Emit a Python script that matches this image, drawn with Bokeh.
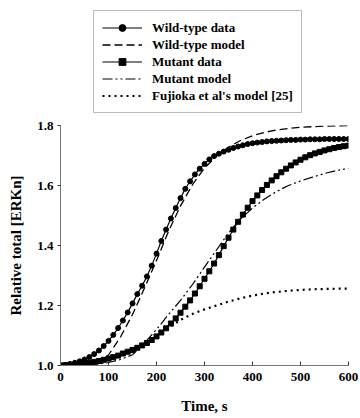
from bokeh.plotting import figure
from bokeh.models import Legend, LegendItem, Range1d, FixedTicker
from bokeh.layouts import column
from bokeh.embed import file_html
from bokeh.resources import INLINE

# ---- data ----
t_data = list(range(0, 601, 10))
wild_data = [1.000, 1.002, 1.005, 1.009, 1.014, 1.020, 1.028, 1.038, 1.050, 1.065,
             1.082, 1.102, 1.125, 1.150, 1.177, 1.207, 1.238, 1.266, 1.297, 1.333,
             1.373, 1.415, 1.453, 1.490, 1.525, 1.558, 1.589, 1.614, 1.637, 1.656,
             1.672, 1.687, 1.698, 1.706, 1.713, 1.719, 1.725, 1.730, 1.734, 1.738,
             1.741, 1.743, 1.745, 1.747, 1.748, 1.749, 1.750, 1.751, 1.752, 1.752,
             1.753, 1.753, 1.754, 1.754, 1.754, 1.755, 1.755, 1.755, 1.755, 1.755,
             1.755]
mutant_data = [1.000, 1.001, 1.002, 1.003, 1.005, 1.007, 1.009, 1.012, 1.015, 1.019,
               1.023, 1.028, 1.033, 1.040, 1.046, 1.052, 1.059, 1.067, 1.075, 1.085,
               1.097, 1.110, 1.124, 1.140, 1.157, 1.176, 1.196, 1.217, 1.240, 1.264,
               1.289, 1.314, 1.340, 1.368, 1.398, 1.426, 1.453, 1.479, 1.503, 1.526,
               1.548, 1.567, 1.585, 1.602, 1.617, 1.631, 1.644, 1.656, 1.667, 1.677,
               1.686, 1.694, 1.701, 1.707, 1.712, 1.717, 1.721, 1.725, 1.728, 1.731,
               1.733]
t_model = [0, 25, 50, 75, 100, 125, 150, 175, 200, 225, 250, 275, 300, 325, 350,
           375, 400, 425, 450, 475, 500, 525, 550, 575, 600]
wild_model = [1.000, 1.000, 1.002, 1.006, 1.035, 1.095, 1.170, 1.258, 1.350, 1.447,
              1.532, 1.603, 1.658, 1.698, 1.728, 1.750, 1.766, 1.777, 1.785, 1.790,
              1.794, 1.796, 1.798, 1.799, 1.800]
mutant_model = [1.000, 1.000, 1.001, 1.004, 1.010, 1.020, 1.036, 1.075, 1.120, 1.170,
                1.217, 1.270, 1.328, 1.385, 1.442, 1.488, 1.525, 1.555, 1.580, 1.600,
                1.615, 1.628, 1.640, 1.650, 1.657]
fujioka_model = [1.000, 1.001, 1.004, 1.010, 1.020, 1.033, 1.050, 1.070, 1.095, 1.125,
                 1.152, 1.172, 1.187, 1.200, 1.213, 1.224, 1.233, 1.240, 1.245, 1.249,
                 1.252, 1.254, 1.255, 1.256, 1.256]
x_ticks = [0, 100, 200, 300, 400, 500, 600]
y_ticks = [1.0, 1.2, 1.4, 1.6, 1.8]
labels = ["Wild-type data", "Wild-type model", "Mutant data", "Mutant model",
          "Fujioka et al's model [25]"]

FONT = "Liberation Serif"

ST_DATA = dict(line_color="black", line_width=1.2)
ST_WM = dict(line_color="black", line_width=1.3, line_dash="8 4")
ST_MM = dict(line_color="black", line_width=1.2, line_dash="10 3 2 3 2 3")
ST_FJ = dict(line_color="black", line_width=2.2, line_dash="2 4")
MK = dict(size=5, fill_color="black", line_color="black")


def draw_series(fig, msize=5):
    mk = dict(MK, size=msize)
    r = []
    r.append(fig.line(t_data, wild_data, **ST_DATA))
    r.append(fig.scatter(t_data, wild_data, marker="circle", **mk))
    r.append(fig.line(t_model, wild_model, **ST_WM))
    r.append(fig.line(t_data, mutant_data, **ST_DATA))
    r.append(fig.scatter(t_data, mutant_data, marker="square", **mk))
    r.append(fig.line(t_model, mutant_model, **ST_MM))
    r.append(fig.line(t_model, fujioka_model, **ST_FJ))
    return r


# ---------------- main plot ----------------
p = figure(width=360, height=303, output_backend="svg", toolbar_location=None,
           x_range=Range1d(0, 600), y_range=Range1d(1.0, 1.8),
           min_border_left=60, min_border_right=12, min_border_top=10,
           min_border_bottom=53)
p.outline_line_color = None
p.grid.visible = False
draw_series(p)

for ax in (p.xaxis[0], p.yaxis[0]):
    ax.axis_line_color = "#777777"
    ax.axis_line_width = 1
    ax.major_tick_line_color = "#333333"
    ax.minor_tick_line_color = None
    ax.major_label_text_font = FONT
    ax.major_label_text_font_style = "bold"
    ax.major_label_text_font_size = "13px"
    ax.major_label_text_color = "black"
    ax.axis_label_text_font = FONT
    ax.axis_label_text_font_style = "bold"
    ax.axis_label_text_color = "black"

p.xaxis.ticker = FixedTicker(ticks=x_ticks)
p.yaxis.ticker = FixedTicker(ticks=y_ticks)
p.yaxis.major_label_overrides = {v: f"{v:.1f}" for v in y_ticks}
p.xaxis.major_tick_in = 4
p.xaxis.major_tick_out = 0
p.yaxis.major_tick_in = 0
p.yaxis.major_tick_out = 3
p.xaxis.major_label_standoff = 7
p.yaxis.major_label_standoff = 4
p.xaxis.axis_label = "Time, s"
p.yaxis.axis_label = "Relative total [ERKn]"
p.xaxis.axis_label_text_font_size = "15px"
p.yaxis.axis_label_text_font_size = "15px"
p.xaxis.axis_label_standoff = 14
p.yaxis.axis_label_standoff = 10

# ---------------- legend strip (series drawn off-view, legend only) ----------------
lg = figure(width=360, height=115, output_backend="svg", toolbar_location=None,
            x_range=Range1d(-20, -10), y_range=Range1d(-20, -10),
            x_axis_location=None, y_axis_location=None,
            min_border_left=0, min_border_right=0, min_border_top=0,
            min_border_bottom=0)
lg.grid.visible = False
lg.outline_line_color = None
rr = draw_series(lg, msize=4)

legend = Legend(items=[
    LegendItem(label=labels[0], renderers=[rr[0], rr[1]]),
    LegendItem(label=labels[1], renderers=[rr[2]]),
    LegendItem(label=labels[2], renderers=[rr[3], rr[4]]),
    LegendItem(label=labels[3], renderers=[rr[5]]),
    LegendItem(label=labels[4], renderers=[rr[6]]),
], location=(33, 2))
legend.label_text_font = FONT
legend.label_text_font_style = "bold"
legend.label_text_font_size = "13px"
legend.label_text_color = "black"
legend.glyph_width = 40
legend.glyph_height = 17
legend.label_height = 17
legend.label_standoff = 10
legend.spacing = 0
legend.padding = 8
legend.margin = 0
legend.border_line_color = "#777777"
legend.border_line_width = 1
legend.background_fill_alpha = 1
lg.add_layout(legend, "center")

layout = column(lg, p, spacing=0)
open("out.html", "w").write(file_html(layout, INLINE))
